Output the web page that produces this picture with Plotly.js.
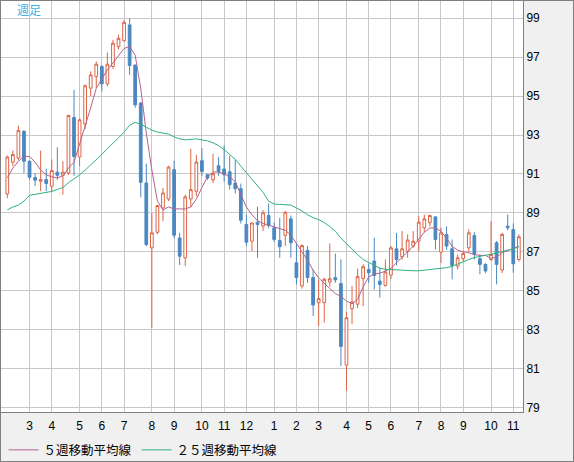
<!DOCTYPE html>
<html><head><meta charset="utf-8">
<script src="https://cdn.plot.ly/plotly-3.0.1.min.js"></script>
<style>
html,body{margin:0;padding:0;background:#f0f0f0;}
#chart{width:572px;height:460px;border:1px solid #808080;}
</style>
</head><body><div id="chart"></div>
<script>
// Weekly OHLC
const open  = [89.97,91.6,91.82,93.19,91.65,90.81,90.62,90.71,90.37,91.09,90.93,91.05,93.9,91.87,93.56,95.41,96.01,96.52,95.63,96.52,
  97.54,97.85,98.66,96.6,94.64,90.53,87.2,88.0,89.25,89.71,91.22,87.71,86.69,89.71,90.11,91.68,90.96,90.7,91.42,91.25,
  91.11,90.53,90.24,88.4,87.54,88.52,88.32,88.86,88.23,87.58,87.84,88.69,86.43,85.24,87.07,85.67,84.38,84.38,85.44,85.67,
  85.36,81.17,84.07,84.3,85.62,86.09,86.52,85.49,85.27,85.8,87.15,86.74,87.03,87.29,87.55,88.23,88.49,88.79,86.98,87.89,
  87.15,86.26,86.64,87.2,87.83,86.64,86.35,86.6,87.46,86.06,88.31,88.14,86.6];
const high  = [91.95,92.2,93.48,93.24,91.7,91.05,92.2,91.27,91.74,92.37,91.65,94.05,95.32,93.85,95.6,96.27,96.78,96.6,97.24,97.9,
  98.15,98.91,99.0,96.6,94.7,91.53,88.99,89.4,90.28,91.42,91.68,87.97,89.94,92.29,91.99,92.33,91.0,92.04,91.87,92.45,
  91.94,91.73,90.5,88.91,88.5,89.31,89.14,89.48,88.49,88.74,89.08,88.86,87.46,87.37,87.3,86.09,85.55,85.67,87.43,86.91,
  86.61,83.9,85.24,86.13,86.35,86.4,87.72,86.18,86.6,87.29,87.97,88.06,87.89,88.06,88.83,88.91,88.91,88.83,88.23,88.31,
  87.63,86.86,87.03,88.14,88.0,86.86,86.4,88.57,87.55,87.97,88.91,88.45,87.9];
const low   = [89.75,91.4,91.7,91.05,90.7,90.37,90.11,90.11,90.11,90.7,89.94,90.95,90.9,91.4,93.3,95.0,95.41,95.24,95.5,96.4,
  97.4,97.8,96.09,94.4,89.8,87.28,83.1,87.9,88.57,89.6,87.7,86.31,86.26,89.3,89.85,90.9,90.7,90.53,90.9,90.6,
  90.2,90.0,88.45,87.29,87.03,86.69,88.06,88.2,87.5,86.69,87.29,86.69,85.32,85.1,85.4,83.7,83.19,83.36,85.2,85.4,
  81.13,79.86,83.27,84.1,84.2,85.4,85.07,84.64,85.2,85.6,86.3,86.6,86.69,87.2,87.03,88.0,88.3,87.12,86.43,87.1,
  85.58,86.09,86.5,87.0,86.6,85.84,85.9,86.52,85.32,85.9,88.1,85.92,86.5];
const close = [91.87,92.0,93.24,91.65,90.83,90.68,90.71,90.51,91.17,90.93,91.09,94.0,91.9,93.78,95.53,96.09,96.64,95.63,96.64,97.72,
  97.97,98.79,96.57,94.55,90.57,87.37,87.97,89.37,90.02,91.35,87.85,86.77,89.82,90.19,91.61,91.13,90.79,91.01,91.13,90.96,
  90.45,90.24,88.62,87.49,88.48,88.4,89.0,88.35,87.63,87.26,89.03,87.46,85.67,87.32,85.67,84.26,84.59,85.58,85.61,85.55,
  82.13,83.61,84.42,85.72,86.23,85.92,85.78,85.32,85.96,87.2,86.6,87.15,87.6,87.54,88.52,88.69,88.86,87.63,87.97,87.29,
  86.3,86.69,86.91,87.97,86.86,86.35,86.01,86.86,86.35,87.89,88.23,86.38,87.77];

// Moving averages
const ma5 = [90.8,91.3,91.65,91.9,91.9,91.6,91.2,90.95,90.85,90.8,90.9,91.3,91.6,92.5,93.4,94.4,95.4,95.9,96.35,96.7,
  97.1,97.45,97.55,97.1,95.4,93.1,91.2,89.6,89.15,89.3,89.2,89.2,89.2,89.3,89.7,90.3,90.85,91.1,91.1,91.0,
  90.85,90.6,89.9,89.3,88.9,88.6,88.45,88.37,88.3,88.18,88.1,87.85,87.45,87.0,86.55,86.05,85.65,85.35,85.1,84.85,
  84.7,84.47,84.32,84.55,85.2,85.7,85.85,85.9,86.0,86.15,86.43,86.7,87.0,87.28,87.65,88.0,88.22,88.22,88.05,87.7,
  87.28,87.08,87.0,86.95,86.85,86.81,86.81,86.66,86.72,86.95,87.05,87.15,87.29];
const ma25 = [89.15,89.3,89.4,89.6,89.9,89.95,90.0,90.05,90.1,90.2,90.3,90.55,90.75,90.95,91.2,91.45,91.75,92.0,92.3,92.55,
  92.85,93.15,93.5,93.65,93.55,93.4,93.25,93.15,93.1,93.05,92.9,92.8,92.75,92.78,92.8,92.75,92.7,92.6,92.45,92.25,
  92.0,91.75,91.4,91.05,90.7,90.4,90.05,89.6,89.45,89.43,89.43,89.4,89.25,89.1,88.9,88.75,88.65,88.5,88.3,88.05,
  87.7,87.4,87.1,86.85,86.6,86.45,86.3,86.15,86.1,86.08,86.05,86.04,86.03,86.02,86.02,86.05,86.08,86.12,86.15,86.18,
  86.25,86.38,86.48,86.6,86.7,86.78,86.82,86.87,86.93,87.0,87.08,87.15,87.25];

// Month ticks: week index where each month starts, and its label
const monthTickWeek = [4,8,13,17,21,26,30,35,39,43,48,52,56,61,65,69,74,78,82,87,91];
const monthLabels   = ['3','4','5','6','7','8','9','10','11','12','1','2','3','4','5','6','7','8','9','10','11'];
const priceTicks    = [79,81,83,85,87,89,91,93,95,97,99];

const weeks = close.map((_, i) => i);

const UP = '#dc6446', DOWN = '#4a88c0';
const traces = [
  {type:'candlestick', x:weeks, open:open, high:high, low:low, close:close, showlegend:false,
   whiskerwidth:0,
   increasing:{line:{color:UP,width:1}, fillcolor:'#ffffff'},
   decreasing:{line:{color:DOWN,width:1}, fillcolor:DOWN},
   hoverinfo:'skip'},
  {type:'scatter', mode:'lines', x:weeks, y:ma5, name:'５週移動平均線',
   line:{color:'#b4628e', width:1}, hoverinfo:'skip'},
  {type:'scatter', mode:'lines', x:weeks, y:ma25, name:'２５週移動平均線',
   line:{color:'#2eb278', width:1}, hoverinfo:'skip'}
];

const layout = {
  width:572, height:460,
  margin:{l:0, r:50, t:0, b:49, pad:0, autoexpand:false},
  paper_bgcolor:'#f0f0f0', plot_bgcolor:'#ffffff',
  font:{family:'Liberation Sans, Arial, sans-serif', size:12, color:'#000'},
  xaxis:{type:'linear', range:[-1.133, 92.75], tickmode:'array', tickvals:monthTickWeek, ticktext:monthLabels,
    showgrid:true, gridcolor:'#c8c8c8', gridwidth:1, zeroline:false,
    showline:true, linecolor:'#808080', linewidth:1, ticks:'', rangeslider:{visible:false},
    ticklabelstandoff:3,
    tickfont:{size:12, family:'Liberation Sans, Arial, sans-serif'}},
  yaxis:{side:'right', range:[78.76, 99.889], tickmode:'array', tickvals:priceTicks,
    showgrid:true, gridcolor:'#c8c8c8', gridwidth:1, zeroline:false,
    showline:true, linecolor:'#808080', linewidth:1, ticks:'',
    tickfont:{size:12, family:'Liberation Sans, Arial, sans-serif'}},
  showlegend:true,
  legend:{orientation:'h', x:0.005, xanchor:'left', y:-0.093, yanchor:'middle', bgcolor:'rgba(0,0,0,0)',
    font:{family:'Noto Sans CJK JP, sans-serif', size:12.5, color:'#000'}, itemwidth:30},
  annotations:[{xref:'paper', yref:'paper', x:0.026, y:0.979, xanchor:'left', yanchor:'middle',
    text:'週足', showarrow:false, font:{family:'Noto Sans CJK JP, sans-serif', size:12, color:'#3cb0e8'}}]
};

Plotly.newPlot('chart', traces, layout, {displayModeBar:false, staticPlot:true});
</script>
</body></html>
